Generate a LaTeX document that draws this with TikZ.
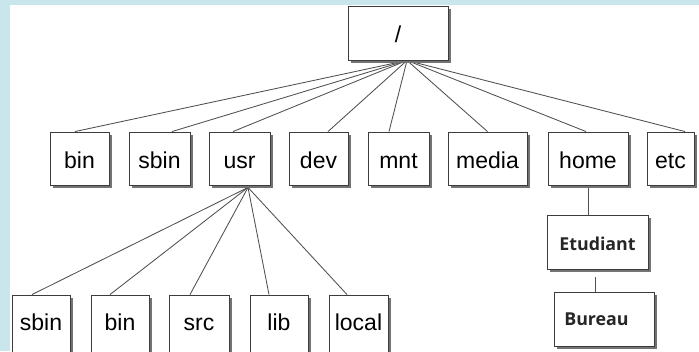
\documentclass[tikz,border=0pt]{standalone}
\usepackage{fontspec}
\setmainfont{Liberation Sans}
\newfontfamily\smallfont{Open Sans}
\usetikzlibrary{shadows,backgrounds}
\definecolor{frameblue}{RGB}{200,230,236}
\definecolor{boxline}{RGB}{60,60,60}
\definecolor{wire}{RGB}{80,80,80}
\tikzset{
  dirbox/.style={draw=boxline, line width=0.9pt, fill=white,
    drop shadow={shadow xshift=3pt, shadow yshift=-3pt, fill=black!55, opacity=1},
    inner sep=0pt, minimum height=53pt, text height=19pt, text depth=0pt,
    font=\fontsize{23}{25}\selectfont},
  lowbox/.style={dirbox, minimum height=64pt, text depth=13pt},
  userbox/.style={dirbox, minimum width=100pt, minimum height=54pt,
    text height=16pt, text=black!85, font=\smallfont\bfseries\fontsize{17.8}{19}\selectfont},
  wireline/.style={draw=wire, line width=0.85pt},
}
\begin{document}
\begin{tikzpicture}[x=1pt, y=-1pt]
\useasboundingbox (0,0) rectangle (699,351);
\clip (0,0) rectangle (699,351);

% root and first level
\node[dirbox, minimum width=100pt, minimum height=54pt] (root) at (398,33) {/};
\node[dirbox, minimum width=59pt] (bin)   at (79.5,158.5)  {bin};
\node[dirbox, minimum width=61pt] (sbin)  at (159.5,158.5) {sbin};
\node[dirbox, minimum width=61pt] (usr)   at (239.5,158.5) {usr};
\node[dirbox, minimum width=59pt] (dev)   at (318.5,158.5) {dev};
\node[dirbox, minimum width=61pt] (mnt)   at (398.5,158.5) {mnt};
\node[dirbox, minimum width=79pt] (media) at (487.5,158.5) {media};
\node[dirbox, minimum width=80pt] (home)  at (588,158.5)   {home};
\node[dirbox, minimum width=47pt] (etc)   at (670.5,158.5) {etc};

% contents of /usr
\node[lowbox, minimum width=58pt] (usbin)  at (41,327)    {sbin};
\node[lowbox, minimum width=58pt] (ubin)   at (120,327)   {bin};
\node[lowbox, minimum width=60pt] (usrc)   at (199,327)   {src};
\node[lowbox, minimum width=58pt] (ulib)   at (279,327)   {lib};
\node[lowbox, minimum width=59pt] (ulocal) at (358.5,327) {local};

% contents of /home
\node[userbox, minimum width=101pt] (etud) at (597.5,242) {Etudiant};
\node[userbox, text height=12pt] (bureau) at (604,319) {Bureau\hspace*{15pt}};

\begin{pgfonlayer}{background}
  \fill[frameblue] (0,0) rectangle (699,351);
  \fill[white] (10,5) rectangle (699,351);

  \coordinate (rootfoot) at ([xshift=9pt]root.south);
  \draw[wireline] (rootfoot) -- ([xshift=-4.5pt]bin.north);
  \draw[wireline] (rootfoot) -- ([xshift=12.5pt]sbin.north);
  \draw[wireline] (rootfoot) -- ([xshift=-6.5pt]usr.north);
  \draw[wireline] (rootfoot) -- ([xshift=9.5pt]dev.north);
  \draw[wireline] (rootfoot) -- ([xshift=-9.5pt]mnt.north);
  \draw[wireline] (rootfoot) -- (media.north);
  \draw[wireline] (rootfoot) -- ([xshift=-2pt]home.north);
  \draw[wireline] (rootfoot) -- ([xshift=14.5pt]etc.north);

  \coordinate (usrfoot) at ([xshift=8.5pt,yshift=-2pt]usr.south);
  \draw[wireline] (usrfoot) -- ([xshift=-9pt]usbin.north);
  \draw[wireline] (usrfoot) -- ([xshift=-10pt]ubin.north);
  \draw[wireline] (usrfoot) -- ([xshift=-9pt]usrc.north);
  \draw[wireline] (usrfoot) -- ([xshift=-10pt]ulib.north);
  \draw[wireline] (usrfoot) -- ([xshift=-11.5pt]ulocal.north);

  \draw[wireline] (home.south) -- ([xshift=-9.5pt]etud.north);
  \draw[wireline] ([xshift=-2.5pt,yshift=-8pt]etud.south) -- ([xshift=-9pt]bureau.north);
\end{pgfonlayer}
\end{tikzpicture}
\end{document}
